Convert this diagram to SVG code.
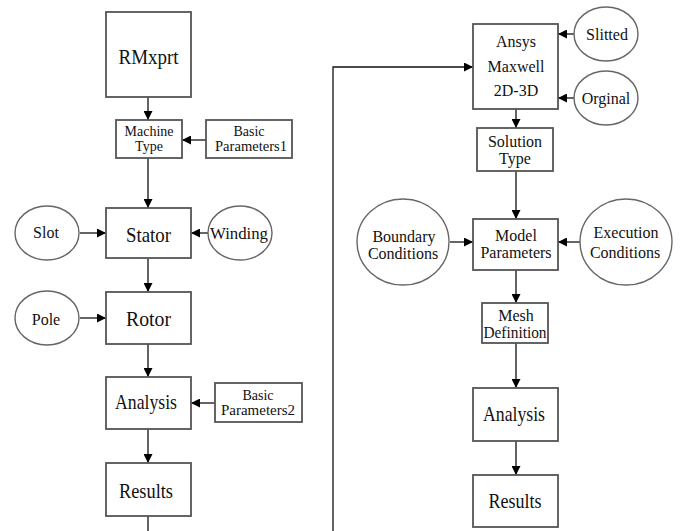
<svg xmlns="http://www.w3.org/2000/svg" width="681" height="531" viewBox="0 0 681 531">
<style>
.box{fill:#fff;stroke:#555;stroke-width:1.8}
.ell{fill:#fff;stroke:#666;stroke-width:1.4}
.c{fill:none;stroke:#111;stroke-width:1.3}
.t text{fill:#111;text-anchor:middle}
.L{font-size:21px}
.M{font-size:16px}
.S{font-size:14px}
</style>
<defs>
<marker id="a" viewBox="0 0 10 10" refX="10" refY="5" markerWidth="10" markerHeight="9" markerUnits="userSpaceOnUse" orient="auto">
<path d="M0,0 L10,5 L0,10 Z" fill="#000"/>
</marker>
</defs>
<rect width="681" height="531" fill="#fff"/>
<g id="connectors">
<line class="c" x1="148" y1="97" x2="148" y2="120" marker-end="url(#a)"/>
<line class="c" x1="206" y1="140" x2="182" y2="140" marker-end="url(#a)"/>
<line class="c" x1="148" y1="158" x2="148" y2="208" marker-end="url(#a)"/>
<line class="c" x1="80" y1="233" x2="106" y2="233" marker-end="url(#a)"/>
<line class="c" x1="208" y1="233" x2="191" y2="233" marker-end="url(#a)"/>
<line class="c" x1="148" y1="258" x2="148" y2="292" marker-end="url(#a)"/>
<line class="c" x1="80" y1="318" x2="106" y2="318" marker-end="url(#a)"/>
<line class="c" x1="148" y1="344" x2="148" y2="377" marker-end="url(#a)"/>
<line class="c" x1="215" y1="403" x2="191" y2="403" marker-end="url(#a)"/>
<line class="c" x1="148" y1="429" x2="148" y2="463" marker-end="url(#a)"/>
<line class="c" x1="148" y1="516" x2="148" y2="531"/>
<polyline class="c" points="333,531 333,67 473,67" marker-end="url(#a)"/>
<line class="c" x1="575" y1="34" x2="558" y2="34" marker-end="url(#a)"/>
<line class="c" x1="575" y1="98" x2="558" y2="98" marker-end="url(#a)"/>
<line class="c" x1="516" y1="109" x2="516" y2="128" marker-end="url(#a)"/>
<line class="c" x1="516" y1="171" x2="516" y2="219" marker-end="url(#a)"/>
<line class="c" x1="450" y1="242" x2="473" y2="242" marker-end="url(#a)"/>
<line class="c" x1="580" y1="242" x2="558" y2="242" marker-end="url(#a)"/>
<line class="c" x1="516" y1="270" x2="516" y2="303" marker-end="url(#a)"/>
<line class="c" x1="516" y1="343" x2="516" y2="388" marker-end="url(#a)"/>
<line class="c" x1="516" y1="441" x2="516" y2="475" marker-end="url(#a)"/>
</g>
<g class="t" font-family="Liberation Serif">
<g id="rmxprt"><rect class="box" x="106" y="12" width="85" height="85"/><text class="L" x="148.5" y="64" textLength="60" lengthAdjust="spacingAndGlyphs">RMxprt</text></g>
<g id="machine-type"><rect class="box" x="116" y="120" width="66" height="38"/><text class="S" x="149" y="136">Machine</text><text class="S" x="149" y="151">Type</text></g>
<g id="basic-params1"><rect class="box" x="206" y="120" width="86" height="38"/><text class="S" x="249" y="136">Basic</text><text class="S" x="251" y="151" textLength="72" lengthAdjust="spacingAndGlyphs">Parameters1</text></g>
<g id="stator"><rect class="box" x="106" y="208" width="85" height="50"/><text class="L" x="148.5" y="242" textLength="45" lengthAdjust="spacingAndGlyphs">Stator</text></g>
<g id="slot"><ellipse class="ell" cx="47" cy="233" rx="32" ry="27"/><text class="M" x="46" y="238">Slot</text></g>
<g id="winding"><ellipse class="ell" cx="240" cy="233" rx="32" ry="27"/><text class="M" x="239" y="239" textLength="58" lengthAdjust="spacingAndGlyphs">Winding</text></g>
<g id="rotor"><rect class="box" x="106" y="292" width="85" height="52"/><text class="L" x="148.5" y="326" textLength="45" lengthAdjust="spacingAndGlyphs">Rotor</text></g>
<g id="pole"><ellipse class="ell" cx="47" cy="318" rx="32" ry="27"/><text class="M" x="46" y="325">Pole</text></g>
<g id="analysis-left"><rect class="box" x="106" y="377" width="85" height="52"/><text class="L" x="146" y="409" textLength="62" lengthAdjust="spacingAndGlyphs">Analysis</text></g>
<g id="basic-params2"><rect class="box" x="215" y="383" width="87" height="39"/><text class="S" x="258" y="400">Basic</text><text class="S" x="258" y="415" textLength="74" lengthAdjust="spacingAndGlyphs">Parameters2</text></g>
<g id="results-left"><rect class="box" x="106" y="463" width="85" height="53"/><text class="L" x="146" y="498" textLength="54" lengthAdjust="spacingAndGlyphs">Results</text></g>
<g id="ansys"><rect class="box" x="473" y="24" width="85" height="85"/><text class="M" x="516" y="47">Ansys</text><text class="M" x="516" y="72">Maxwell</text><text class="M" x="516" y="96">2D-3D</text></g>
<g id="slitted"><ellipse class="ell" cx="606" cy="34" rx="32" ry="27"/><text class="M" x="607" y="40">Slitted</text></g>
<g id="orginal"><ellipse class="ell" cx="606" cy="98" rx="32" ry="27"/><text class="M" x="606" y="104">Orginal</text></g>
<g id="solution-type"><rect class="box" x="477" y="128" width="76" height="43"/><text class="M" x="515" y="147">Solution</text><text class="M" x="515" y="164">Type</text></g>
<g id="model-params"><rect class="box" x="473" y="219" width="85" height="51"/><text class="M" x="516" y="241">Model</text><text class="M" x="516" y="258">Parameters</text></g>
<g id="boundary"><ellipse class="ell" cx="403" cy="242" rx="46" ry="43"/><text class="M" x="404" y="242">Boundary</text><text class="M" x="403" y="259">Conditions</text></g>
<g id="execution"><ellipse class="ell" cx="626" cy="242" rx="46" ry="43"/><text class="M" x="626" y="238">Execution</text><text class="M" x="625" y="258">Conditions</text></g>
<g id="mesh"><rect class="box" x="482" y="303" width="66" height="40"/><text class="M" x="516" y="321">Mesh</text><text class="M" x="515" y="338" textLength="63" lengthAdjust="spacingAndGlyphs">Definition</text></g>
<g id="analysis-right"><rect class="box" x="473" y="388" width="85" height="53"/><text class="L" x="514" y="421" textLength="62" lengthAdjust="spacingAndGlyphs">Analysis</text></g>
<g id="results-right"><rect class="box" x="473" y="475" width="85" height="52"/><text class="L" x="515" y="508" textLength="53" lengthAdjust="spacingAndGlyphs">Results</text></g>
</g>
</svg>
